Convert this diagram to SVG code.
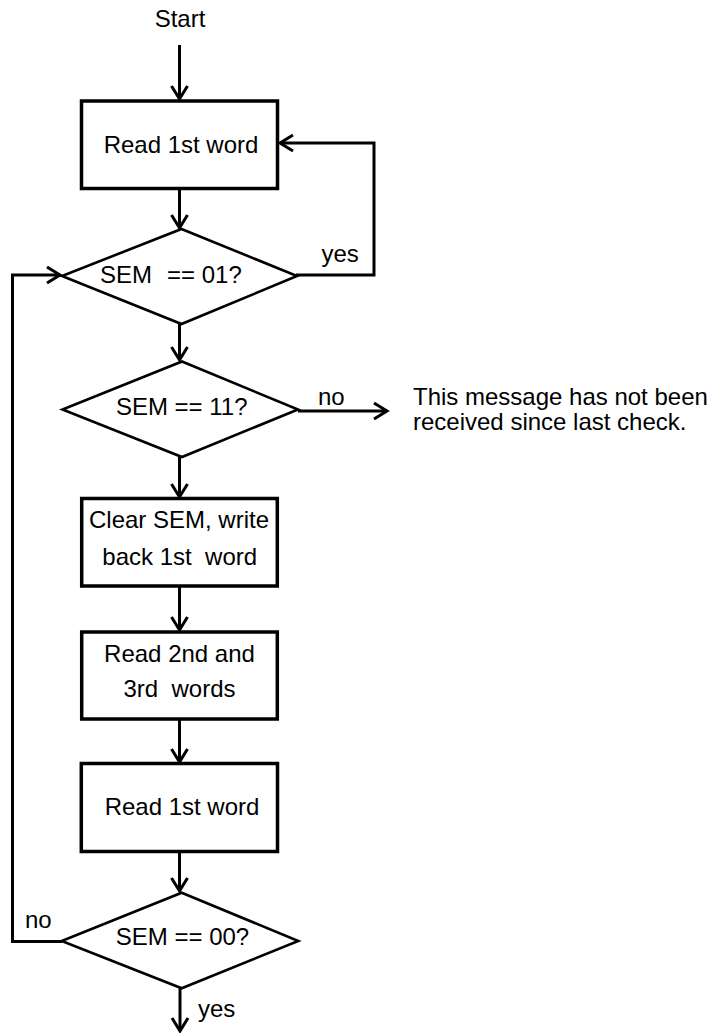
<svg xmlns="http://www.w3.org/2000/svg" width="714" height="1033" viewBox="0 0 714 1033">
<style>
text{font-family:"Liberation Sans",Arial,sans-serif;font-size:24px;fill:#000}
.c{text-anchor:middle}
.box{fill:#fff;stroke:#000;stroke-width:3.5}
.dia{fill:#fff;stroke:#000;stroke-width:2.6;stroke-linejoin:miter}
.ln{fill:none;stroke:#000;stroke-width:3}
.ar{marker-end:url(#arr)}
</style>
<defs>
<marker id="arr" markerUnits="userSpaceOnUse" markerWidth="20" markerHeight="20" viewBox="-16 -10 18 20" refX="0" refY="0" orient="auto">
<path d="M-13,-8 L0,0 L-13,8" fill="none" stroke="#000" stroke-width="3"/>
</marker>
</defs>
<rect width="714" height="1033" fill="#fff"/>
<g id="connectors">
<line class="ln ar" x1="179.5" y1="45" x2="179.5" y2="99"/>
<line class="ln ar" x1="179.5" y1="189" x2="179.5" y2="228"/>
<polyline class="ln ar" points="296,275 374,275 374,143 280,143"/>
<line class="ln ar" x1="179.5" y1="324" x2="179.5" y2="360"/>
<line class="ln ar" x1="298" y1="411" x2="387" y2="411"/>
<line class="ln ar" x1="179.5" y1="457" x2="179.5" y2="497"/>
<line class="ln ar" x1="179.5" y1="587" x2="179.5" y2="630"/>
<line class="ln ar" x1="179.5" y1="719" x2="179.5" y2="762"/>
<line class="ln ar" x1="179.5" y1="852" x2="179.5" y2="891"/>
<polyline class="ln ar" points="62,941.5 12.5,941.5 12.5,275 60,275"/>
<line class="ln ar" x1="180" y1="988" x2="180" y2="1031"/>
</g>
<g id="start"><text class="c" x="180" y="27">Start</text></g>
<g id="read1">
<rect class="box" x="81.5" y="101" width="196" height="87.5"/>
<text class="c" x="181" y="153">Read 1st word</text>
</g>
<g id="sem01">
<polygon class="dia" points="181.5,229 297,276 181.5,324 62,276"/>
<text><tspan x="100" y="283">SEM</tspan><tspan x="167" y="283">== 01?</tspan></text>
<text x="321.5" y="261.5">yes</text>
</g>
<g id="sem11">
<polygon class="dia" points="182,361.5 298,409.5 182,457 62.5,409.5"/>
<text class="c" x="181.7" y="415">SEM == 11?</text>
<text x="318" y="405">no</text>
</g>
<g id="note">
<text x="413" y="405">This message has not been</text>
<text x="413" y="430">received since last check.</text>
</g>
<g id="clear">
<rect class="box" x="81.7" y="498.5" width="195.6" height="87.5"/>
<text class="c" x="179" y="528.3">Clear SEM, write</text>
<text class="c" x="179.7" y="565" xml:space="preserve">back 1st  word</text>
</g>
<g id="read23">
<rect class="box" x="81.7" y="632" width="195.6" height="87"/>
<text class="c" x="179.5" y="661.7">Read 2nd and</text>
<text class="c" x="179.5" y="697.3" xml:space="preserve">3rd  words</text>
</g>
<g id="read1b">
<rect class="box" x="81.3" y="763.5" width="196.2" height="88"/>
<text class="c" x="182" y="815">Read 1st word</text>
</g>
<g id="sem00">
<polygon class="dia" points="181.7,892.7 298.3,941 181.7,988.3 61.7,941"/>
<text class="c" x="182.5" y="945">SEM == 00?</text>
<text x="25" y="928">no</text>
<text x="198" y="1016.7">yes</text>
</g>
</svg>
